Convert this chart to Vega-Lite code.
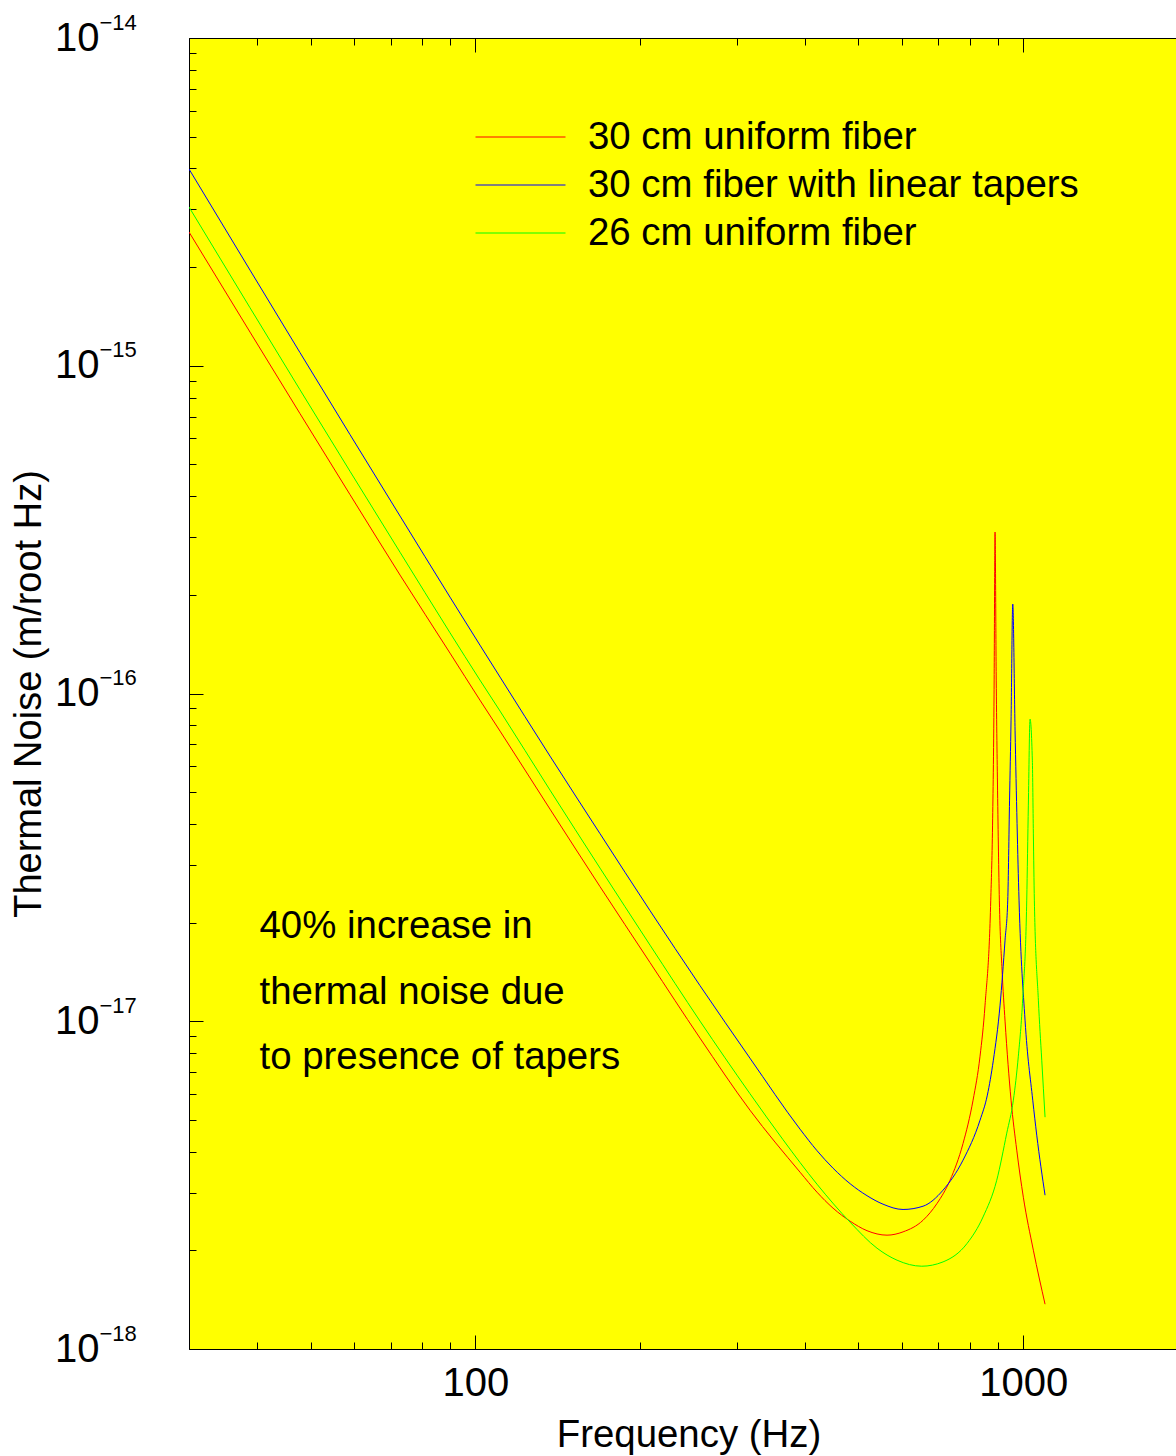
{
  "$schema": "https://vega.github.io/schema/vega-lite/v6.json",
  "width": 987,
  "height": 1311,
  "autosize": {"type": "none"},
  "padding": {"left": 189, "top": 38, "right": 0, "bottom": 107},
  "background": "white",
  "config": {
    "font": "Liberation Sans",
    "view": {"fill": "#ffff00", "stroke": null},
    "axis": {
      "labelFont": "Liberation Sans",
      "titleFont": "Liberation Sans",
      "labelColor": "black",
      "titleColor": "black",
      "tickColor": "black",
      "domainColor": "black",
      "domainWidth": 1,
      "tickWidth": 1,
      "grid": false,
      "titleFontWeight": "normal",
      "labelFlush": false,
      "labelOverlap": false,
      "labelBound": false
    }
  },
  "datasets": {
    "curves": [
      {"series": "30 cm uniform fiber", "freq": 30.0, "noise": 2.559e-15},
      {"series": "30 cm uniform fiber", "freq": 38.77, "noise": 1.267e-15},
      {"series": "30 cm uniform fiber", "freq": 47.83, "noise": 7.146e-16},
      {"series": "30 cm uniform fiber", "freq": 59.02, "noise": 4.045e-16},
      {"series": "30 cm uniform fiber", "freq": 72.84, "noise": 2.298e-16},
      {"series": "30 cm uniform fiber", "freq": 89.86, "noise": 1.328e-16},
      {"series": "30 cm uniform fiber", "freq": 101.9, "noise": 9.547e-17},
      {"series": "30 cm uniform fiber", "freq": 110.9, "noise": 7.677e-17},
      {"series": "30 cm uniform fiber", "freq": 136.8, "noise": 4.438e-17},
      {"series": "30 cm uniform fiber", "freq": 168.8, "noise": 2.575e-17},
      {"series": "30 cm uniform fiber", "freq": 208.3, "noise": 1.510e-17},
      {"series": "30 cm uniform fiber", "freq": 257.0, "noise": 8.880e-18},
      {"series": "30 cm uniform fiber", "freq": 317.0, "noise": 5.355e-18},
      {"series": "30 cm uniform fiber", "freq": 391.3, "noise": 3.463e-18},
      {"series": "30 cm uniform fiber", "freq": 420.2, "noise": 3.009e-18},
      {"series": "30 cm uniform fiber", "freq": 449.5, "noise": 2.690e-18},
      {"series": "30 cm uniform fiber", "freq": 482.9, "noise": 2.455e-18},
      {"series": "30 cm uniform fiber", "freq": 518.5, "noise": 2.296e-18},
      {"series": "30 cm uniform fiber", "freq": 564.0, "noise": 2.225e-18},
      {"series": "30 cm uniform fiber", "freq": 603.3, "noise": 2.277e-18},
      {"series": "30 cm uniform fiber", "freq": 656.2, "noise": 2.471e-18},
      {"series": "30 cm uniform fiber", "freq": 695.9, "noise": 2.780e-18},
      {"series": "30 cm uniform fiber", "freq": 735.0, "noise": 3.273e-18},
      {"series": "30 cm uniform fiber", "freq": 776.3, "noise": 4.237e-18},
      {"series": "30 cm uniform fiber", "freq": 809.7, "noise": 5.744e-18},
      {"series": "30 cm uniform fiber", "freq": 833.8, "noise": 7.825e-18},
      {"series": "30 cm uniform fiber", "freq": 851.5, "noise": 1.120e-17},
      {"series": "30 cm uniform fiber", "freq": 872.2, "noise": 2.342e-17},
      {"series": "30 cm uniform fiber", "freq": 878.8, "noise": 3.967e-17},
      {"series": "30 cm uniform fiber", "freq": 884.4, "noise": 9.958e-17},
      {"series": "30 cm uniform fiber", "freq": 888.1, "noise": 3.109e-16},
      {"series": "30 cm uniform fiber", "freq": 892.5, "noise": 1.099e-16},
      {"series": "30 cm uniform fiber", "freq": 897.5, "noise": 5.072e-17},
      {"series": "30 cm uniform fiber", "freq": 904.3, "noise": 2.342e-17},
      {"series": "30 cm uniform fiber", "freq": 914.6, "noise": 1.432e-17},
      {"series": "30 cm uniform fiber", "freq": 926.2, "noise": 1.001e-17},
      {"series": "30 cm uniform fiber", "freq": 949.9, "noise": 5.744e-18},
      {"series": "30 cm uniform fiber", "freq": 972.9, "noise": 4.043e-18},
      {"series": "30 cm uniform fiber", "freq": 1000.2, "noise": 2.905e-18},
      {"series": "30 cm uniform fiber", "freq": 1043.2, "noise": 2.002e-18},
      {"series": "30 cm uniform fiber", "freq": 1095.8, "noise": 1.370e-18},
      {"series": "30 cm fiber with linear tapers", "freq": 30.0, "noise": 3.983e-15},
      {"series": "30 cm fiber with linear tapers", "freq": 38.77, "noise": 1.958e-15},
      {"series": "30 cm fiber with linear tapers", "freq": 47.83, "noise": 1.097e-15},
      {"series": "30 cm fiber with linear tapers", "freq": 59.02, "noise": 6.166e-16},
      {"series": "30 cm fiber with linear tapers", "freq": 72.84, "noise": 3.478e-16},
      {"series": "30 cm fiber with linear tapers", "freq": 89.86, "noise": 1.968e-16},
      {"series": "30 cm fiber with linear tapers", "freq": 101.9, "noise": 1.405e-16},
      {"series": "30 cm fiber with linear tapers", "freq": 110.9, "noise": 1.122e-16},
      {"series": "30 cm fiber with linear tapers", "freq": 136.8, "noise": 6.441e-17},
      {"series": "30 cm fiber with linear tapers", "freq": 168.8, "noise": 3.736e-17},
      {"series": "30 cm fiber with linear tapers", "freq": 208.3, "noise": 2.175e-17},
      {"series": "30 cm fiber with linear tapers", "freq": 257.0, "noise": 1.284e-17},
      {"series": "30 cm fiber with linear tapers", "freq": 317.0, "noise": 7.716e-18},
      {"series": "30 cm fiber with linear tapers", "freq": 391.3, "noise": 4.685e-18},
      {"series": "30 cm fiber with linear tapers", "freq": 420.2, "noise": 4.028e-18},
      {"series": "30 cm fiber with linear tapers", "freq": 449.5, "noise": 3.562e-18},
      {"series": "30 cm fiber with linear tapers", "freq": 482.9, "noise": 3.194e-18},
      {"series": "30 cm fiber with linear tapers", "freq": 518.5, "noise": 2.936e-18},
      {"series": "30 cm fiber with linear tapers", "freq": 554.6, "noise": 2.766e-18},
      {"series": "30 cm fiber with linear tapers", "freq": 603.3, "noise": 2.665e-18},
      {"series": "30 cm fiber with linear tapers", "freq": 656.2, "noise": 2.727e-18},
      {"series": "30 cm fiber with linear tapers", "freq": 713.7, "noise": 3.052e-18},
      {"series": "30 cm fiber with linear tapers", "freq": 776.3, "noise": 3.769e-18},
      {"series": "30 cm fiber with linear tapers", "freq": 833.8, "noise": 4.991e-18},
      {"series": "30 cm fiber with linear tapers", "freq": 859.8, "noise": 5.950e-18},
      {"series": "30 cm fiber with linear tapers", "freq": 881.8, "noise": 7.607e-18},
      {"series": "30 cm fiber with linear tapers", "freq": 907.0, "noise": 1.120e-17},
      {"series": "30 cm fiber with linear tapers", "freq": 926.2, "noise": 1.768e-17},
      {"series": "30 cm fiber with linear tapers", "freq": 936.8, "noise": 2.342e-17},
      {"series": "30 cm fiber with linear tapers", "freq": 943.9, "noise": 4.728e-17},
      {"series": "30 cm fiber with linear tapers", "freq": 949.9, "noise": 8.296e-17},
      {"series": "30 cm fiber with linear tapers", "freq": 956.7, "noise": 1.874e-16},
      {"series": "30 cm fiber with linear tapers", "freq": 966.0, "noise": 7.731e-17},
      {"series": "30 cm fiber with linear tapers", "freq": 982.3, "noise": 2.342e-17},
      {"series": "30 cm fiber with linear tapers", "freq": 1007.4, "noise": 1.008e-17},
      {"series": "30 cm fiber with linear tapers", "freq": 1040.6, "noise": 5.744e-18},
      {"series": "30 cm fiber with linear tapers", "freq": 1058.2, "noise": 4.492e-18},
      {"series": "30 cm fiber with linear tapers", "freq": 1095.8, "noise": 2.946e-18},
      {"series": "26 cm uniform fiber", "freq": 30.0, "noise": 3.050e-15},
      {"series": "26 cm uniform fiber", "freq": 38.77, "noise": 1.503e-15},
      {"series": "26 cm uniform fiber", "freq": 47.83, "noise": 8.448e-16},
      {"series": "26 cm uniform fiber", "freq": 59.02, "noise": 4.765e-16},
      {"series": "26 cm uniform fiber", "freq": 72.84, "noise": 2.697e-16},
      {"series": "26 cm uniform fiber", "freq": 89.86, "noise": 1.532e-16},
      {"series": "26 cm uniform fiber", "freq": 101.9, "noise": 1.099e-16},
      {"series": "26 cm uniform fiber", "freq": 110.9, "noise": 8.837e-17},
      {"series": "26 cm uniform fiber", "freq": 136.8, "noise": 5.072e-17},
      {"series": "26 cm uniform fiber", "freq": 168.8, "noise": 2.933e-17},
      {"series": "26 cm uniform fiber", "freq": 208.3, "noise": 1.707e-17},
      {"series": "26 cm uniform fiber", "freq": 257.0, "noise": 1.001e-17},
      {"series": "26 cm uniform fiber", "freq": 317.0, "noise": 6.013e-18},
      {"series": "26 cm uniform fiber", "freq": 364.3, "noise": 4.351e-18},
      {"series": "26 cm uniform fiber", "freq": 420.2, "noise": 3.183e-18},
      {"series": "26 cm uniform fiber", "freq": 482.9, "noise": 2.437e-18},
      {"series": "26 cm uniform fiber", "freq": 540.8, "noise": 2.030e-18},
      {"series": "26 cm uniform fiber", "freq": 588.3, "noise": 1.866e-18},
      {"series": "26 cm uniform fiber", "freq": 652.6, "noise": 1.789e-18},
      {"series": "26 cm uniform fiber", "freq": 713.7, "noise": 1.844e-18},
      {"series": "26 cm uniform fiber", "freq": 789.5, "noise": 2.099e-18},
      {"series": "26 cm uniform fiber", "freq": 844.4, "noise": 2.529e-18},
      {"series": "26 cm uniform fiber", "freq": 894.4, "noise": 3.273e-18},
      {"series": "26 cm uniform fiber", "freq": 932.9, "noise": 4.556e-18},
      {"series": "26 cm uniform fiber", "freq": 959.1, "noise": 5.744e-18},
      {"series": "26 cm uniform fiber", "freq": 979.4, "noise": 7.825e-18},
      {"series": "26 cm uniform fiber", "freq": 997.7, "noise": 1.176e-17},
      {"series": "26 cm uniform fiber", "freq": 1014.6, "noise": 2.342e-17},
      {"series": "26 cm uniform fiber", "freq": 1021.5, "noise": 4.565e-17},
      {"series": "26 cm uniform fiber", "freq": 1028.8, "noise": 8.355e-17},
      {"series": "26 cm uniform fiber", "freq": 1038.8, "noise": 6.262e-17},
      {"series": "26 cm uniform fiber", "freq": 1043.2, "noise": 3.750e-17},
      {"series": "26 cm uniform fiber", "freq": 1047.6, "noise": 2.342e-17},
      {"series": "26 cm uniform fiber", "freq": 1065.4, "noise": 1.160e-17},
      {"series": "26 cm uniform fiber", "freq": 1080.7, "noise": 7.607e-18},
      {"series": "26 cm uniform fiber", "freq": 1095.8, "noise": 5.097e-18}
    ],
    "note": [
      {"freq": 40.35, "noise": 1.793e-17, "text": ["40% increase in", "thermal noise due", "to presence of tapers"]}
    ]
  },
  "layer": [
    {
      "data": {"name": "curves"},
      "mark": {"type": "line", "strokeWidth": 1, "clip": true, "interpolate": "monotone"},
      "encoding": {
        "x": {
          "field": "freq", "type": "quantitative",
          "scale": {"type": "log", "domain": [30, 1900], "nice": false},
          "axis": {
            "orient": "bottom",
            "values": [30, 40, 50, 60, 70, 80, 90, 100, 200, 300, 400, 500, 600, 700, 800, 900, 1000],
            "labelExpr": "(datum.value == 100 || datum.value == 1000) ? format(datum.value, 'd') : ''",
            "tickSize": {"condition": {"test": "datum.value == 100 || datum.value == 1000", "value": -14}, "value": -7},
            "labelFontSize": 40,
            "labelPadding": 28,
            "title": "Frequency (Hz)",
            "titleFontSize": 38.4,
            "titleX": 499.5,
            "titleY": 97,
            "titleAlign": "center",
            "titleBaseline": "alphabetic"
          }
        },
        "y": {
          "field": "noise", "type": "quantitative",
          "scale": {"type": "log", "domain": [1e-18, 1e-14], "nice": false},
          "axis": {
            "orient": "left",
            "values": [1e-18, 2e-18, 3e-18, 4e-18, 5e-18, 6e-18, 7e-18, 8e-18, 9e-18, 1e-17, 2e-17, 3e-17, 4e-17, 5e-17, 6e-17, 7e-17, 8e-17, 9e-17, 1e-16, 2e-16, 3e-16, 4e-16, 5e-16, 6e-16, 7e-16, 8e-16, 9e-16, 1e-15, 2e-15, 3e-15, 4e-15, 5e-15, 6e-15, 7e-15, 8e-15, 9e-15, 1e-14],
            "labelExpr": "abs(log(datum.value)/LN10 - round(log(datum.value)/LN10)) < 0.001 ? '10' : ''",
            "tickSize": {"condition": {"test": "abs(log(datum.value)/LN10 - round(log(datum.value)/LN10)) < 0.001", "value": -14}, "value": -7},
            "labelFontSize": 40,
            "labelPadding": 104,
            "labelAlign": "right",
            "labelBaseline": "middle",
            "title": "Thermal Noise (m/root Hz)",
            "titleFontSize": 38,
            "titleAngle": -90,
            "titleX": -149,
            "titleY": 655.5,
            "titleAlign": "center",
            "titleBaseline": "alphabetic"
          }
        },
        "color": {
          "field": "series", "type": "nominal",
          "scale": {
            "domain": ["30 cm uniform fiber", "30 cm fiber with linear tapers", "26 cm uniform fiber"],
            "range": ["#ff0000", "#0000ff", "#00ff00"]
          },
          "legend": {
            "orient": "none",
            "legendX": 286,
            "legendY": 75.25,
            "title": null,
            "padding": 0,
            "symbolType": "stroke",
            "symbolSize": 8100,
            "symbolStrokeWidth": 1,
            "clipHeight": 47.5,
            "rowPadding": 0,
            "labelFont": "Liberation Sans",
            "labelFontSize": 38.4,
            "labelColor": "black",
            "labelOffset": 22,
            "labelLimit": 0,
            "labelBaseline": "middle"
          }
        }
      }
    },
    {
      "data": {"name": "note"},
      "mark": {"type": "text", "font": "Liberation Sans", "fontSize": 38.4, "color": "black", "align": "left", "baseline": "alphabetic", "lineHeight": 65.5},
      "encoding": {
        "x": {
          "field": "freq", "type": "quantitative",
          "scale": {"type": "log", "domain": [30, 1900], "nice": false},
          "axis": {
            "orient": "top",
            "values": [30, 40, 50, 60, 70, 80, 90, 100, 200, 300, 400, 500, 600, 700, 800, 900, 1000],
            "labels": false,
            "tickSize": {"condition": {"test": "datum.value == 100 || datum.value == 1000", "value": -14}, "value": -7},
            "title": null
          }
        },
        "y": {
          "field": "noise", "type": "quantitative",
          "scale": {"type": "log", "domain": [1e-18, 1e-14], "nice": false},
          "axis": {
            "orient": "left",
            "values": [1e-18, 1e-17, 1e-16, 1e-15, 1e-14],
            "ticks": false,
            "domain": false,
            "labelExpr": "'\u2212' + format(-round(log(datum.value)/LN10), 'd')",
            "labelFontSize": 22,
            "labelAlign": "left",
            "labelBaseline": "middle",
            "labelPadding": 90,
            "labelOffset": -16,
            "title": null
          }
        },
        "text": {"field": "text"}
      }
    }
  ],
  "resolve": {"axis": {"x": "independent", "y": "independent"}}
}
